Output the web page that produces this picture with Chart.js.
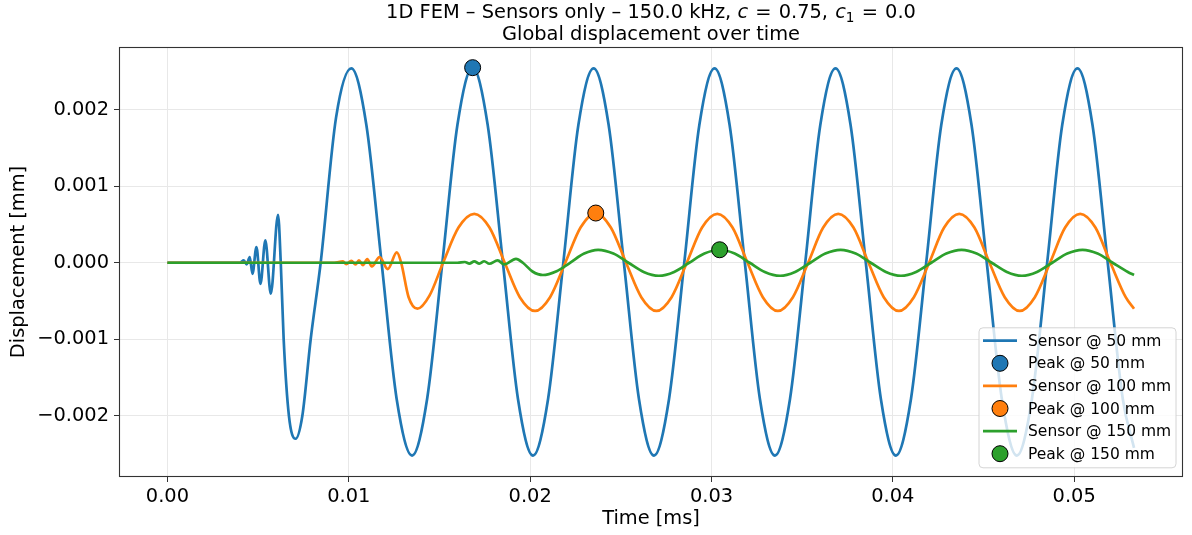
<!DOCTYPE html>
<html>
<head>
<meta charset="utf-8">
<script src="https://cdn.jsdelivr.net/npm/chart.js@4.4.1/dist/chart.umd.min.js"></script>
<style>
  html, body { margin: 0; padding: 0; background: #fff; }
  canvas { display: block; }
</style>
</head>
<body>
<canvas id="fem" width="1192" height="535"></canvas>
<script>
// Sensor @ 50 mm: time [ms] and displacement [mm]
const sensor50Time = [
  0, 0.0040, 0.00421, 0.00437, 0.00454, 0.00469, 0.00491, 0.00513, 0.0054, 0.0057,
  0.0061, 0.00625, 0.00641, 0.0067, 0.00707, 0.00744, 0.0079, 0.00845, 0.0093, 0.01014,
  0.01097, 0.01181, 0.01264, 0.01349, 0.01432, 0.01516, 0.01599, 0.01683,
  0.01766, 0.0185, 0.01933, 0.02016, 0.02099, 0.02183, 0.02266, 0.0235,
  0.02433, 0.02517, 0.026, 0.02683, 0.02766, 0.0285, 0.02933, 0.03017,
  0.031, 0.03184, 0.03267, 0.0335, 0.03433, 0.03517, 0.036, 0.03684,
  0.03767, 0.03851, 0.03934, 0.04017, 0.041, 0.04184, 0.04267, 0.04351,
  0.04434, 0.04518, 0.04601, 0.04684, 0.04767, 0.04851, 0.04934, 0.05018,
  0.05101, 0.05185, 0.05268, 0.0533
];
const sensor50Disp = [
  0, 0, 0.00003, -0.00002, 0.000075, -0.000144, 0.000205, -0.000275, 0.000292, -0.000405,
  0.000627, 0, -0.001, -0.002, -0.0023, -0.002, -0.001, 0, 0.0019, 0.00254,
  0.0018, 0, -0.00178, -0.00252, -0.00178, 0, 0.0018, 0.00255,
  0.0018, 0, -0.00178, -0.00252, -0.00178, 0, 0.0018, 0.00254,
  0.0018, 0, -0.00178, -0.00252, -0.00178, 0, 0.0018, 0.00254,
  0.0018, 0, -0.00178, -0.00252, -0.00178, 0, 0.0018, 0.00254,
  0.0018, 0, -0.00178, -0.00252, -0.00178, 0, 0.0018, 0.00254,
  0.0018, 0, -0.00178, -0.00252, -0.00178, 0, 0.0018, 0.00254,
  0.0018, 0, -0.00178, -0.00242
];

// Sensor @ 100 mm
const sensor100Time = [
  0, 0.0092, 0.00968, 0.00986, 0.01014, 0.01037, 0.01056, 0.01078, 0.01102, 0.01127,
  0.0117, 0.01215, 0.01265, 0.01289, 0.0133, 0.01379, 0.01445, 0.0152, 0.01605, 0.01692,
  0.01776, 0.0186, 0.01943, 0.02027, 0.0211, 0.02194, 0.02278, 0.02362,
  0.02445, 0.02529, 0.02613, 0.02697, 0.0278, 0.02864, 0.02948, 0.03032,
  0.03116, 0.03199, 0.03283, 0.03366, 0.03449, 0.03533, 0.03616, 0.03699,
  0.03783, 0.03866, 0.0395, 0.04033, 0.04116, 0.042, 0.04283, 0.04366,
  0.0445, 0.04533, 0.04617, 0.047, 0.04783, 0.04867, 0.0495, 0.05033,
  0.05117, 0.052, 0.05284, 0.0533
];
const sensor100Disp = [
  0, 0, 0.000017, -0.000017, 0.000026, -0.000022, 0.00003, -0.00003, 0.000048, -0.000048,
  0.000074, -0.000082, 0.000135, 0, -0.00045, -0.0006, -0.00043, 0, 0.00046, 0.00064,
  0.00046, 0, -0.00045, -0.00063, -0.00045, 0, 0.00046, 0.00065,
  0.00046, 0, -0.00045, -0.00063, -0.00045, 0, 0.00046, 0.00064,
  0.00046, 0, -0.00045, -0.00063, -0.00045, 0, 0.00046, 0.00064,
  0.00046, 0, -0.00045, -0.00063, -0.00045, 0, 0.00046, 0.00064,
  0.00046, 0, -0.00045, -0.00063, -0.00045, 0, 0.00046, 0.00064,
  0.00046, 0, -0.00045, -0.0006
];

// Sensor @ 150 mm
const sensor150Time = [
  0, 0.0160, 0.0164, 0.01665, 0.01692, 0.0172, 0.01747, 0.01775, 0.01821, 0.01857,
  0.01922, 0.0196, 0.02013, 0.0207, 0.02146, 0.0222, 0.02298, 0.02375,
  0.02459, 0.02542, 0.02626, 0.0271, 0.02794, 0.02877, 0.02961, 0.03045,
  0.03128, 0.03211, 0.03294, 0.03378, 0.03461, 0.03545, 0.03628, 0.03712,
  0.03795, 0.03878, 0.03962, 0.04045, 0.04128, 0.04212, 0.04295, 0.04379,
  0.04462, 0.04545, 0.04629, 0.04712, 0.04795, 0.04879, 0.04962, 0.05046,
  0.05129, 0.05212, 0.05296, 0.0533
];
const sensor150Disp = [
  0, 0, 0.00001, -0.00001, 0.000017, -0.00001, 0.00002, -0.000013, 0.00003, -0.000022,
  0.00005, 0, -0.000114, -0.00016, -0.00011, 0, 0.00012, 0.000168,
  0.00012, 0, -0.00012, -0.00017, -0.00012, 0, 0.00012, 0.00017,
  0.00012, 0, -0.00012, -0.00017, -0.00012, 0, 0.00012, 0.000168,
  0.00012, 0, -0.00012, -0.00017, -0.00012, 0, 0.00012, 0.000168,
  0.00012, 0, -0.00012, -0.00017, -0.00012, 0, 0.00012, 0.000168,
  0.00012, 0, -0.00012, -0.00016
];

// Peak markers (maximum of each sensor trace)
const peak50Time = [0.01683];
const peak50Disp = [0.00255];
const peak100Time = [0.02362];
const peak100Disp = [0.00065];
const peak150Time = [0.03045];
const peak150Disp = [0.00017];

// Axis ticks
const timeTicks = [0.00, 0.01, 0.02, 0.03, 0.04, 0.05];
const dispTicks = [-0.002, -0.001, 0.000, 0.001, 0.002];

const FONT = "'DejaVu Sans', sans-serif";
const TEXT_SIZE = 19.4;
Chart.defaults.font.family = FONT;
Chart.defaults.color = '#000';

const toPoints = (xs, ys) => xs.map((x, i) => ({ x: x, y: ys[i] }));

function traceDataset(label, xs, ys, color, order) {
  return {
    label, data: toPoints(xs, ys), borderColor: color, backgroundColor: color,
    borderWidth: 2.7, pointRadius: 0, pointHoverRadius: 0, fill: false,
    cubicInterpolationMode: 'monotone', showLine: true, order
  };
}
function peakDataset(label, xs, ys, color, order) {
  return {
    label, data: toPoints(xs, ys), showLine: false, borderColor: color,
    backgroundColor: color, pointRadius: 8, pointHoverRadius: 8,
    pointBackgroundColor: color, pointBorderColor: '#000', pointBorderWidth: 1, order
  };
}

const datasets = [
  traceDataset('Sensor @ 50 mm', sensor50Time, sensor50Disp, '#1f77b4', 6),
  peakDataset('Peak @ 50 mm', peak50Time, peak50Disp, '#1f77b4', 5),
  traceDataset('Sensor @ 100 mm', sensor100Time, sensor100Disp, '#ff7f0e', 4),
  peakDataset('Peak @ 100 mm', peak100Time, peak100Disp, '#ff7f0e', 3),
  traceDataset('Sensor @ 150 mm', sensor150Time, sensor150Disp, '#2ca02c', 2),
  peakDataset('Peak @ 150 mm', peak150Time, peak150Disp, '#2ca02c', 1)
];

// White page background
const background = {
  id: 'background',
  beforeDraw(chart) {
    const c = chart.ctx;
    c.save();
    c.fillStyle = '#fff';
    c.fillRect(0, 0, chart.width, chart.height);
    c.restore();
  }
};

// Box around the plotting area
const frame = {
  id: 'frame',
  afterDatasetsDraw(chart) {
    const { ctx: c, chartArea: a } = chart;
    c.save();
    c.strokeStyle = '#333';
    c.lineWidth = 1.1;
    c.strokeRect(Math.round(a.left) + 0.5, Math.round(a.top) + 0.5,
      Math.round(a.right - a.left) - 1, Math.round(a.bottom - a.top) - 1);
    c.restore();
  }
};

// Two-line title with italic c and subscript; gap = extra space after a piece
const titleLine1 = [
  { text: '1D FEM \u2013 Sensors only \u2013 150.0 kHz, ', kind: 'normal', gap: 0 },
  { text: 'c', kind: 'italic', gap: 1 },
  { text: ' = ', kind: 'normal', gap: 1 },
  { text: '0.75, ', kind: 'normal', gap: 1 },
  { text: 'c', kind: 'italic', gap: 0 },
  { text: '1', kind: 'sub', gap: 1 },
  { text: ' = ', kind: 'normal', gap: 1 },
  { text: '0.0', kind: 'normal', gap: 0 }
];
const titleLine2 = 'Global displacement over time';

const titleBlock = {
  id: 'titleBlock',
  afterDraw(chart) {
    const { ctx: c, chartArea: a } = chart;
    const size = TEXT_SIZE;
    const fontOf = k => k === 'italic' ? `italic ${size}px ${FONT}`
      : k === 'sub' ? `${(size * 0.7).toFixed(1)}px ${FONT}` : `${size}px ${FONT}`;
    const cx = (a.left + a.right) / 2;
    c.save();
    c.fillStyle = '#000';
    c.textBaseline = 'alphabetic';
    c.textAlign = 'left';
    let total = 0;
    titleLine1.forEach(p => { c.font = fontOf(p.kind); total += c.measureText(p.text).width + p.gap; });
    let x = cx - total / 2;
    const base1 = 18;
    titleLine1.forEach(p => {
      c.font = fontOf(p.kind);
      c.fillText(p.text, x, p.kind === 'sub' ? base1 + 4 : base1);
      x += c.measureText(p.text).width + p.gap;
    });
    c.font = fontOf('normal');
    c.textAlign = 'center';
    c.fillText(titleLine2, cx, 40);
    c.restore();
  }
};

// Legend box in the lower right corner of the plotting area
const cornerLegend = {
  id: 'cornerLegend',
  afterDraw(chart) {
    const { ctx: c, chartArea: a } = chart;
    const ds = chart.data.datasets;
    const w = 197, h = 140, rowH = 22.6;
    const x0 = a.right - 7.5 - w, y0 = a.bottom - 9.7 - h;
    c.save();
    c.beginPath();
    c.roundRect(x0 + 0.5, y0 + 0.5, w, h, 4);
    c.fillStyle = 'rgba(255,255,255,0.8)';
    c.fill();
    c.strokeStyle = 'rgba(204,204,204,0.85)';
    c.lineWidth = 1;
    c.stroke();
    c.font = `15.5px ${FONT}`;
    c.textBaseline = 'middle';
    c.textAlign = 'left';
    ds.forEach((d, i) => {
      const cy = y0 + 13.4 + i * rowH;
      if (d.showLine) {
        c.beginPath();
        c.moveTo(x0 + 4.5, cy);
        c.lineTo(x0 + 38.5, cy);
        c.strokeStyle = d.borderColor;
        c.lineWidth = 2.7;
        c.stroke();
      } else {
        c.beginPath();
        c.arc(x0 + 21.5, cy, 8, 0, Math.PI * 2);
        c.fillStyle = d.pointBackgroundColor;
        c.fill();
        c.strokeStyle = '#000';
        c.lineWidth = 1;
        c.stroke();
      }
      c.fillStyle = '#000';
      c.fillText(d.label, x0 + 49.5, cy + 1);
    });
    c.restore();
  }
};

new Chart(document.getElementById('fem'), {
  type: 'line',
  data: { datasets },
  options: {
    responsive: false,
    animation: false,
    devicePixelRatio: 1,
    events: [],
    layout: { padding: { top: 47, right: 7, left: 0, bottom: 0 } },
    plugins: { legend: { display: false }, title: { display: false }, tooltip: { enabled: false } },
    scales: {
      x: {
        type: 'linear',
        min: -0.00267,
        max: 0.0560,
        afterBuildTicks: s => { s.ticks = timeTicks.map(v => ({ value: v })); },
        afterFit: s => { s.height = 58; },
        ticks: {
          font: { size: TEXT_SIZE }, color: '#000', padding: 3, maxRotation: 0, autoSkip: false,
          callback: v => v.toFixed(2)
        },
        grid: { color: '#e8e8e8', lineWidth: 1, tickLength: 5, tickColor: '#333', tickWidth: 1 },
        border: { display: false },
        title: { display: true, text: 'Time [ms]', font: { size: TEXT_SIZE }, color: '#000', padding: { top: 0, bottom: 4 } }
      },
      y: {
        type: 'linear',
        min: -0.0028,
        max: 0.00282,
        afterBuildTicks: s => { s.ticks = dispTicks.map(v => ({ value: v })); },
        afterFit: s => { s.width = 119; },
        ticks: {
          font: { size: TEXT_SIZE }, color: '#000', padding: 5,
          callback: v => v.toFixed(3).replace('-', '\u2212')
        },
        grid: { color: '#e8e8e8', lineWidth: 1, tickLength: 5, tickColor: '#333', tickWidth: 1 },
        border: { display: false },
        title: { display: true, text: 'Displacement [mm]', font: { size: TEXT_SIZE }, color: '#000', padding: { top: 7, bottom: 0 } }
      }
    }
  },
  plugins: [background, frame, titleBlock, cornerLegend]
});
</script>
</body>
</html>
